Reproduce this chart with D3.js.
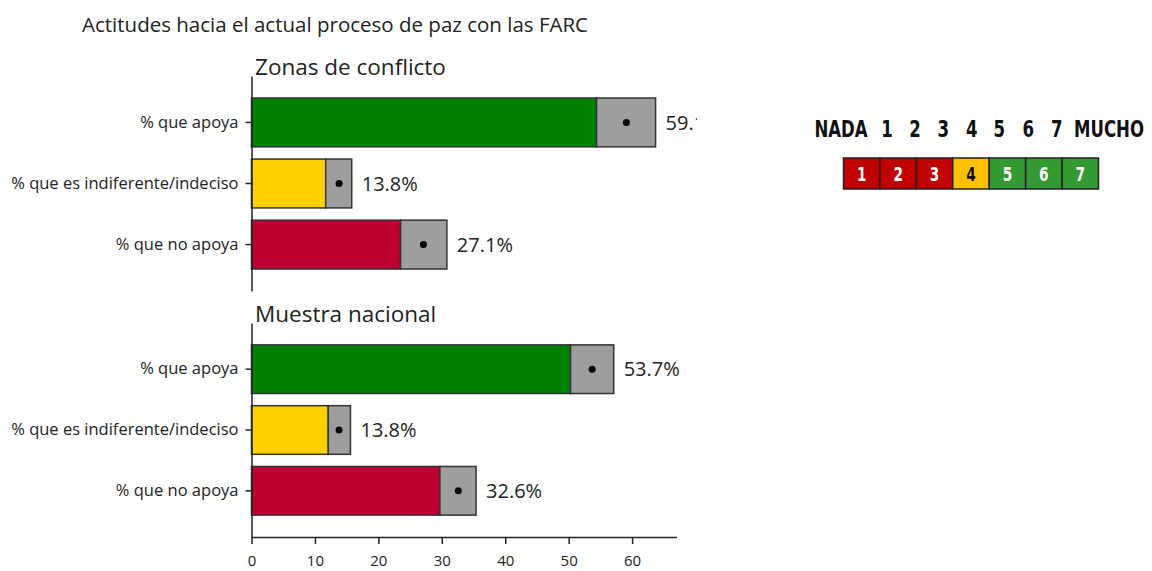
<!DOCTYPE html>
<html lang="es">
<head>
<meta charset="UTF-8">
<title>Actitudes hacia el actual proceso de paz con las FARC</title>
<style>
  body { margin: 0; background: #fff; }
  svg text { font-family: "Open Sans", "Noto Sans", sans-serif; fill: #222; }
</style>
</head>
<body>
<svg id="chart"></svg>
<script src="https://cdn.jsdelivr.net/npm/d3@7"></script>
<script>
// datos
const categories = ["% que apoya", "% que es indiferente/indeciso", "% que no apoya"];
const panelTitles = ["Zonas de conflicto", "Muestra nacional"];
const zonasMean = [59.1, 13.8, 27.1];
const zonasLow = [54.4, 11.7, 23.5];
const zonasHigh = [63.7, 15.8, 30.8];
const nacionalMean = [53.7, 13.8, 32.6];
const nacionalLow = [50.3, 12.1, 29.7];
const nacionalHigh = [57.1, 15.6, 35.4];
const xTicks = [0, 10, 20, 30, 40, 50, 60];
const legendLevels = [1, 2, 3, 4, 5, 6, 7];
const legendHeader = ["NADA", "1", "2", "3", "4", "5", "6", "7", "MUCHO"];

const barColors = ["#008000", "#FFD000", "#C00030"];
const levelColors = ["#C00000", "#C00000", "#C00000", "#FFC000", "#339933", "#339933", "#339933"];

const W = 1152, H = 571;
const svg = d3.select("#chart").attr("width", W).attr("height", H);

const x = d3.scaleLinear().domain([0, 67]).range([251.5, 676.5]);

// titulo
svg.append("text")
    .attr("x", 82).attr("y", 32)
    .attr("font-size", "20.5px")
    .text("Actitudes hacia el actual proceso de paz con las FARC");

svg.append("clipPath").attr("id", "plotclip")
    .append("rect").attr("x", 0).attr("y", 0).attr("width", 697).attr("height", H);

const panels = [
    { title: panelTitles[0], mean: zonasMean, low: zonasLow, high: zonasHigh, range: [76, 291] },
    { title: panelTitles[1], mean: nacionalMean, low: nacionalLow, high: nacionalHigh, range: [323, 537] }
];

panels.forEach(function (p, pi) {
    const rows = categories.map(function (c, i) {
        return { cat: c, mean: p.mean[i], low: p.low[i], high: p.high[i], color: barColors[i] };
    });
    const y = d3.scaleBand().domain(categories).range(p.range)
        .paddingInner(0.2).paddingOuter(0.36);

    const g = svg.append("g").attr("clip-path", "url(#plotclip)");

    svg.append("text")
        .attr("x", 255).attr("y", p.range[0] - 1)
        .attr("font-size", "22.5px")
        .text(p.title);

    const yAxis = svg.append("g")
        .attr("transform", "translate(" + x(0) + ",0)")
        .call(d3.axisLeft(y).tickSizeOuter(0).tickSizeInner(6).tickPadding(7));
    yAxis.selectAll("text").attr("font-size", "16.5px");
    yAxis.selectAll("path, line").attr("stroke", "#222").attr("stroke-width", 1.5);

    g.selectAll("rect.bar").data(rows).enter().append("rect")
        .attr("class", "bar")
        .attr("x", x(0))
        .attr("y", function (d) { return y(d.cat); })
        .attr("width", function (d) { return x(d.low) - x(0); })
        .attr("height", y.bandwidth())
        .attr("fill", function (d) { return d.color; })
        .attr("stroke", "#333").attr("stroke-width", 1.5);

    g.selectAll("rect.ci").data(rows).enter().append("rect")
        .attr("class", "ci")
        .attr("x", function (d) { return x(d.low); })
        .attr("y", function (d) { return y(d.cat); })
        .attr("width", function (d) { return x(d.high) - x(d.low); })
        .attr("height", y.bandwidth())
        .attr("fill", "#9E9E9E")
        .attr("stroke", "#333").attr("stroke-width", 1.5);

    g.selectAll("circle").data(rows).enter().append("circle")
        .attr("cx", function (d) { return x(d.mean); })
        .attr("cy", function (d) { return y(d.cat) + y.bandwidth() / 2; })
        .attr("r", 3.5)
        .attr("fill", "#000");

    g.selectAll("text.val").data(rows).enter().append("text")
        .attr("class", "val")
        .attr("x", function (d) { return x(d.high) + 10; })
        .attr("y", function (d) { return y(d.cat) + y.bandwidth() / 2; })
        .attr("dy", "0.36em")
        .attr("font-size", "20px")
        .text(function (d) { return d.mean.toFixed(1) + "%"; });

    if (pi === 1) {
        const xAxis = svg.append("g")
            .attr("transform", "translate(0," + p.range[1] + ")")
            .call(d3.axisBottom(x).tickValues(xTicks).tickSizeOuter(0).tickSizeInner(7).tickPadding(11));
        xAxis.selectAll("text").attr("font-size", "15px");
        xAxis.selectAll("path, line").attr("stroke", "#222").attr("stroke-width", 1.5);
    }
});

// leyenda
const lg = svg.append("g");
const headX = [841, 887, 915, 943.3, 971.7, 999.3, 1028.3, 1056.7, 1109];
lg.selectAll("text.head").data(legendHeader).enter().append("text")
    .attr("class", "head")
    .attr("transform", function (d, i) { return "translate(" + headX[i] + ",137) scale(0.8,1)"; })
    .attr("text-anchor", "middle")
    .attr("font-size", "23px")
    .attr("font-weight", "bold")
    .style("font-family", "'DejaVu Sans Condensed', 'Liberation Sans Narrow', sans-serif")
    .style("fill", "#111")
    .text(function (d) { return d; });

const bx = d3.scaleBand().domain(legendLevels).range([843.5, 1098.5]);
lg.selectAll("rect").data(legendLevels).enter().append("rect")
    .attr("x", function (d) { return bx(d); })
    .attr("y", 158)
    .attr("width", bx.bandwidth())
    .attr("height", 31)
    .attr("fill", function (d, i) { return levelColors[i]; })
    .attr("stroke", "#222").attr("stroke-width", 1.5);
lg.selectAll("text.lvl").data(legendLevels).enter().append("text")
    .attr("class", "lvl")
    .attr("transform", function (d) { return "translate(" + (bx(d) + bx.bandwidth() / 2) + ",174) scale(0.8,1)"; })
    .attr("dy", "0.36em")
    .attr("text-anchor", "middle")
    .attr("font-size", "19px")
    .attr("font-weight", "bold")
    .style("font-family", "'DejaVu Sans Condensed', 'Liberation Sans Narrow', sans-serif")
    .style("fill", function (d) { return d === 4 ? "#111" : "#fff"; })
    .text(function (d) { return d; });
</script>
</body>
</html>
